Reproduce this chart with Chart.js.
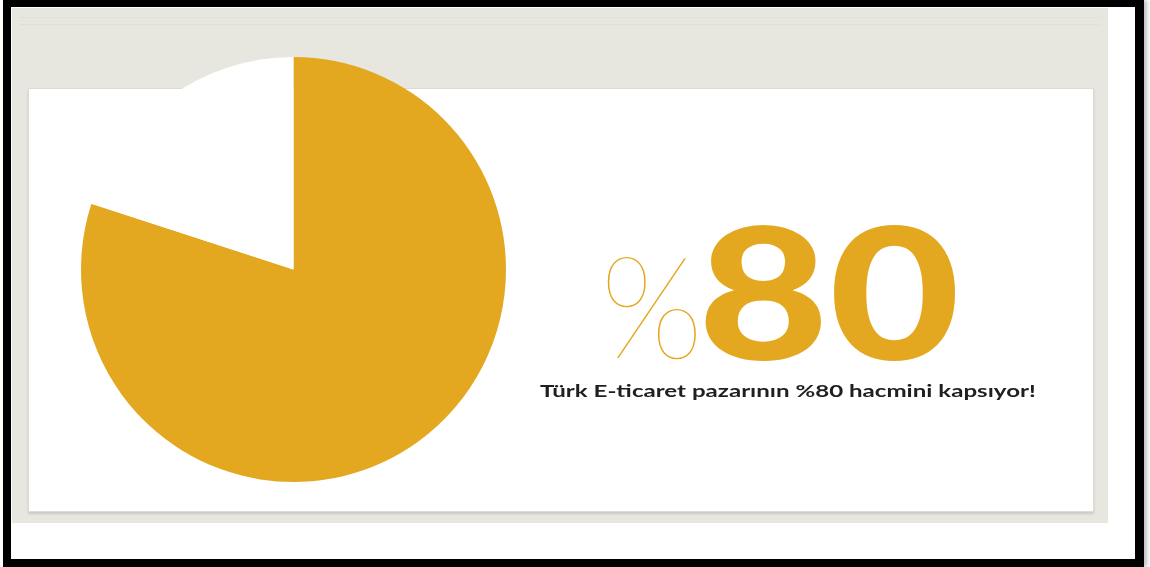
<!DOCTYPE html>
<html lang="tr">
<head>
<meta charset="utf-8">
<title>Türk E-ticaret pazarı</title>
<script src="https://cdn.jsdelivr.net/npm/chart.js@4/dist/chart.umd.min.js"></script>
<style>
  html, body { margin: 0; padding: 0; background: #ffffff; }
  #page { position: relative; width: 1150px; height: 567px; overflow: hidden; background: #ffffff; }
  #frame {
    position: absolute; left: 3px; top: 0; width: 1124px; height: 552px;
    border-style: solid; border-color: #000;
    border-width: 7px 9px 8px 8px;
    box-shadow: 3px 0 4px rgba(0,0,0,0.25);
  }
  #band {
    position: absolute; left: 12px; top: 8px; width: 1096px; height: 515px;
    background: #e7e7e0;
  }
  #band .dots {
    position: absolute; left: 8px; right: 8px; height: 0;
    border-top: 1px dotted rgba(120,120,110,0.12);
  }
  #card {
    position: absolute; left: 28px; top: 88px; width: 1064px; height: 422px;
    background: #ffffff; border: 1px solid #dcdcd3;
    box-shadow: 0 2px 2px rgba(0,0,0,0.12);
  }
  #chart { position: absolute; left: 0; top: 0; }
</style>
</head>
<body>
<div id="page">
  <div id="frame"></div>
  <div id="band">
    <div class="dots" style="top:9px"></div>
    <div class="dots" style="top:16px"></div>
  </div>
  <div id="card"></div>
  <canvas id="chart" width="1150" height="567"></canvas>
</div>
<script>
// Share of the Turkish e-commerce market volume covered
const categories = ['Kapsanan', 'Diğer'];
const shareValues = [80, 20];
const sliceColors = ['#e4a820', '#ffffff'];

const headlineSign = '%';
const headlineNumber = String(shareValues[0]);
const caption = 'Türk E-ticaret pazarının %' + shareValues[0] + ' hacmini kapsıyor!';

// Draws a text so its ink box spans the given width and ascent
function drawFitted(ctx, text, font, color, left, baseline, width, ascent) {
  ctx.save();
  ctx.font = font;
  ctx.fillStyle = color;
  ctx.textBaseline = 'alphabetic';
  ctx.textAlign = 'left';
  const m = ctx.measureText(text);
  const inkW = m.actualBoundingBoxLeft + m.actualBoundingBoxRight;
  const inkA = m.actualBoundingBoxAscent;
  const sx = width / inkW;
  const sy = ascent / inkA;
  ctx.translate(left, baseline);
  ctx.scale(sx, sy);
  ctx.fillText(text, m.actualBoundingBoxLeft, 0);
  ctx.restore();
}

const headlinePlugin = {
  id: 'headline',
  afterDraw(chart) {
    const ctx = chart.ctx;
    drawFitted(ctx, headlineSign, '200 140px Lato', sliceColors[0], 607, 358, 89, 101);
    drawFitted(ctx, headlineNumber, '900 190px Lato', sliceColors[0], 705, 360, 250, 135);
    drawFitted(ctx, caption, '700 16px Lato', '#1f1f1f', 540, 397, 495, 12);
  }
};

new Chart(document.getElementById('chart'), {
  type: 'pie',
  data: {
    labels: categories,
    datasets: [{
      data: shareValues,
      backgroundColor: sliceColors,
      borderWidth: 0
    }]
  },
  options: {
    responsive: false,
    animation: false,
    layout: { padding: { left: 81, top: 55, right: 644, bottom: 83 } },
    plugins: {
      legend: { display: false },
      tooltip: { enabled: false }
    }
  },
  plugins: [headlinePlugin]
});
</script>
</body>
</html>
